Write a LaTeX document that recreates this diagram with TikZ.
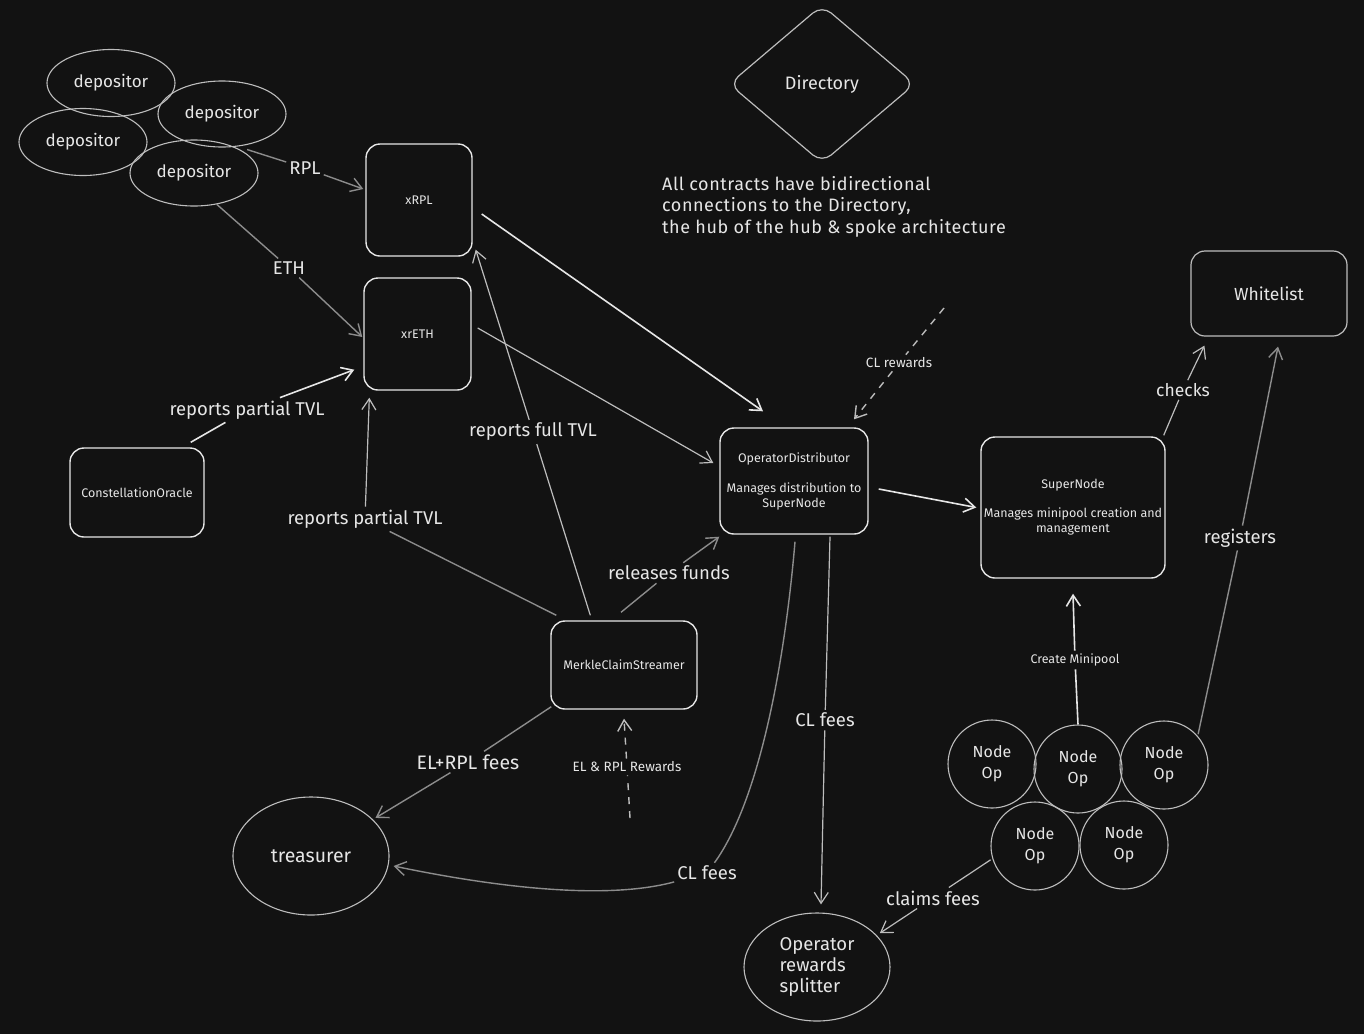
\documentclass[tikz,border=0pt]{standalone}
\usepackage{fontspec}
\setmainfont{Fira Sans}
\usetikzlibrary{shapes.geometric,arrows.meta,calc}
\definecolor{bg}{HTML}{121212}
\definecolor{fg}{HTML}{E6E6E6}
\definecolor{mid}{HTML}{BDBDBD}
\definecolor{dim}{HTML}{8C8C8C}
\begin{document}
\begin{tikzpicture}[x=1pt,y=-1pt,
  smallf/.style={font=\fontsize{12.5}{15}\selectfont},
  medf/.style={font=\fontsize{17}{21}\selectfont},
  labf/.style={font=\fontsize{18.5}{21}\selectfont},
  box/.style={draw=fg, line width=1.4pt, rounded corners=14pt, inner sep=2pt, align=center, text=fg, smallf},
  ell/.style={ellipse, draw=mid, line width=1.1pt, inner sep=0pt, text=fg, medf},
  opc/.style={circle, draw=mid, line width=1.1pt, minimum size=88pt, inner sep=0pt, align=center, text=fg, font=\fontsize{16}{21}\selectfont},
  lbl/.style={text=fg, labf, inner sep=3pt},
  slbl/.style={text=fg, font=\fontsize{13.5}{16}\selectfont, inner sep=3pt},
  arr/.style={-{Straight Barb[length=11pt,width=14pt]}},
  cbright/.style={draw=fg, line width=1.6pt},
  cmid/.style={draw=mid, line width=1.2pt},
  cdim/.style={draw=dim, line width=1.4pt},
  cdash/.style={draw=mid, line width=1.4pt, dash pattern=on 7pt off 7pt}
]
\fill[bg] (0,0) rectangle (1364,1034);
\useasboundingbox (0,0) rectangle (1364,1034);

% depositors
\node[ell, minimum width=128pt, minimum height=67pt] (dep1) at (111,83) {depositor};
\node[ell, minimum width=128pt, minimum height=66pt] (dep2) at (222,114) {depositor};
\node[ell, minimum width=128pt, minimum height=67pt] (dep3) at (83,142) {depositor};
\node[ell, minimum width=128pt, minimum height=66pt] (dep4) at (194,173) {depositor};

% boxes
\node[box, minimum width=106pt, minimum height=112pt] (xrpl) at (419,200) {xRPL};
\node[box, minimum width=107pt, minimum height=112pt] (xreth) at (417.5,334) {xrETH};
\node[box, minimum width=134pt, minimum height=89pt] (oracle) at (137,492.5) {ConstellationOracle};
\node[box, minimum width=146pt, minimum height=88pt] (mcs) at (624,665) {MerkleClaimStreamer};
\node[box, minimum width=148pt, minimum height=106pt] (od) at (794,481)
  {OperatorDistributor\\[15pt]Manages distribution to\\SuperNode};
\node[box, minimum width=184pt, minimum height=141pt] (sn) at (1073,507.5)
  {SuperNode\\[14pt]Manages minipool creation and\\management};
\node[box, font=\fontsize{17.5}{21}\selectfont, draw=mid, line width=1.2pt, minimum width=156pt, minimum height=85pt] (wl) at (1269,293.5) {Whitelist};

% directory
\node[diamond, draw=mid, line width=1.2pt, rounded corners=12pt, aspect=1.18,
      minimum width=186pt, minimum height=158pt, inner sep=0pt, text=fg, font=\fontsize{18}{21}\selectfont] (dir) at (822,84) {Directory};
\node[anchor=north west, align=left, text=fg, font=\fontsize{18}{21.5}\selectfont\addfontfeature{LetterSpace=3}, inner sep=0pt] (note) at (662,176)
  {All contracts have bidirectional\\connections to the Directory,\\the hub of the hub \& spoke architecture};

% ellipses bottom
\node[ell, minimum width=156pt, minimum height=118pt, font=\fontsize{19.5}{21}\selectfont] (treas) at (311,856) {treasurer};
\node[ell, minimum width=146pt, minimum height=108pt, align=left, font=\fontsize{18.5}{21}\selectfont] (split) at (817,967) {Operator\\rewards\\splitter};

% node operators
\node[opc] (n1) at (992,764) {Node\\Op};
\node[opc] (n2) at (1078,769) {Node\\Op};
\node[opc] (n3) at (1164,765) {Node\\Op};
\node[opc] (n4) at (1035,846) {Node\\Op};
\node[opc] (n5) at (1124,845) {Node\\Op};

% free ends
\coordinate (clrsrc) at (944,308);
\coordinate (elsrc) at (630,818);

% labels
\node[lbl] (lrpl) at (305,168) {RPL};
\node[lbl] (leth) at (289,268) {ETH};
\node[lbl] (lortvl) at (247,410) {reports partial TVL};
\node[lbl] (lmctvl) at (365,519) {reports partial TVL};
\node[lbl] (lfull) at (533,432) {reports full TVL};
\node[slbl] (lclr) at (899,363) {CL rewards};
\node[lbl] (lrel) at (669,573) {releases funds};
\node[lbl, font=\fontsize{17.5}{21}\selectfont] (lchk) at (1183,390) {checks};
\node[lbl] (lreg) at (1240,538) {registers};
\node[slbl, font=\fontsize{12.5}{15}\selectfont] (lcm) at (1075,660) {Create Minipool};
\node[lbl] (lclaim) at (933,898) {claims fees};
\node[lbl] (lclf) at (825,720) {CL fees};
\node[lbl] (lclt) at (707,873) {CL fees};
\node[lbl, font=\fontsize{19.5}{21}\selectfont] (lelrpl) at (468,762) {EL+RPL fees};
\node[slbl] (lelr) at (627,767) {EL \& RPL Rewards};

% connectors
\draw[cdim] ($(dep2.-55)+(3,4)$) -- (lrpl);
\draw[cdim, arr] (lrpl) -- ($(xrpl.west)+(-2,-11)$);

\draw[cdim] ($(dep4.-54)+(0,0)$) -- (leth);
\draw[cdim, arr] (leth) -- ($(xreth.west)+(-1,3)$);

\draw[cbright] ($(oracle.north east)+(-14,-5)$) -- (lortvl);
\draw[cbright, arr] (lortvl) -- ($(xreth.south west)+(-9,-21)$);

\draw[cdim] ($(mcs.north west)+(6,-5)$) -- (lmctvl);
\draw[cmid, arr] (lmctvl) -- ($(xreth.south west)+(6,7)$);

\draw[cmid] ($(mcs.north west)+(40,-5)$) -- (lfull);
\draw[cmid, arr] (lfull) -- ($(xrpl.south east)+(3,-7)$);

\draw[cbright, arr] ($(xrpl.east)+(9,14)$) -- ($(od.north)+(-31,-16)$);
\draw[cmid, arr] ($(xreth.east)+(6,-6)$) -- ($(od.west)+(-6,-18)$);

\draw[cdash] (clrsrc) -- (lclr);
\draw[cdash, arr] (lclr) -- ($(od.north)+(60,-8)$);

\draw[cdim] ($(mcs.north)+(-3,-8)$) -- (lrel);
\draw[cdim, arr] (lrel) -- ($(od.south west)+(0,2)$);

\draw[cbright, arr] ($(od.east)+(10,8)$) -- ($(sn.west)+(-4,0)$);

\draw[cmid] ($(sn.north east)+(-2,-1)$) -- (lchk);
\draw[cmid, arr] (lchk) -- ($(wl.south west)+(14,9)$);

\draw[cdim] ($(n3.42)+(1,-1)$) -- (lreg);
\draw[cdim, arr] (lreg) -- ($(wl.south)+(9,10)$);

\draw[cbright] (n2.north) -- (lcm);
\draw[cbright, arr] (lcm) -- ($(sn.south)+(0,15)$);

\draw[cmid] ($(n4.198)+(-2,0)$) -- (lclaim);
\draw[cmid, arr] (lclaim) -- ($(split.28)+(3,-2)$);

\draw[cmid] ($(od.south)+(36,2)$) -- (lclf);
\draw[cmid, arr] (lclf) -- ($(split.north)+(4,-8)$);

\draw[cdim] ($(od.south)+(1,7)$) .. controls (785,660) and (760,800) .. (lclt);
\draw[cdim, arr] (lclt) .. controls (600,902) and (480,884) .. ($(treas.east)+(4,10)$);

\draw[cdim] ($(mcs.south west)+(1,-3)$) -- (lelrpl);
\draw[cdim, arr] (lelrpl) -- ($(treas.30)+(2,-2)$);

\draw[cdash] (elsrc) -- (lelr);
\draw[cdash, arr] (lelr) -- ($(mcs.south)+(0,9)$);
\end{tikzpicture}
\end{document}
